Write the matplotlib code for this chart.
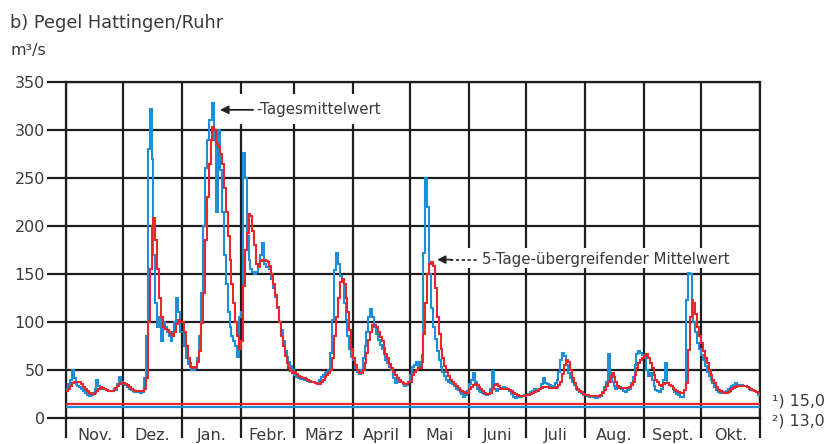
import numpy as np
import matplotlib

matplotlib.use("Agg")
import matplotlib.pyplot as plt
from matplotlib.patches import Rectangle

plt.rcParams["font.family"] = ["DejaVu Sans"]

# ── Daily discharge, Pegel Hattingen/Ruhr (m³/s) ─────────────────────────────
months = ["Nov.", "Dez.", "Jan.", "Febr.", "März", "April",
          "Mai", "Juni", "Juli", "Aug.", "Sept.", "Okt."]
month_days = [30, 31, 31, 28, 31, 30, 31, 30, 31, 31, 30, 31]

# Tagesmittelwert (blue)
blue_nov = [30, 35, 40, 50, 42, 35, 33, 32, 30, 28, 26, 24, 23, 24, 26, 30, 40, 33, 30, 31,
            30, 29, 28, 28, 28, 30, 29, 35, 43, 38]
blue_dez = [35, 34, 32, 30, 29, 28, 27, 27, 27, 26, 27, 42, 85, 280, 322, 270, 170, 120, 95, 105,
            80, 100, 95, 90, 85, 80, 90, 100, 125, 110, 90]
blue_jan = [90, 75, 62, 56, 53, 50, 50, 52, 62, 85, 130, 200, 260, 290, 310, 310, 328, 290, 215, 300,
            258, 215, 170, 140, 110, 95, 85, 80, 75, 64, 105]
blue_feb = [110, 276, 250, 190, 165, 155, 152, 150, 152, 160, 170, 182, 160, 157, 157, 155, 145, 135,
            126, 115, 100, 92, 80, 70, 64, 58, 54, 50]
blue_mar = [45, 43, 42, 41, 41, 40, 40, 39, 38, 38, 37, 36, 36, 40, 43, 45, 47, 48, 50, 68,
            102, 154, 172, 160, 148, 144, 120, 102, 85, 72, 64]
blue_apr = [60, 52, 48, 46, 50, 62, 75, 90, 105, 114, 105, 95, 88, 81, 76, 72, 67, 60, 57, 53,
            50, 42, 36, 40, 37, 37, 35, 33, 34, 38]
blue_mai = [45, 53, 55, 58, 53, 58, 66, 172, 250, 220, 150, 115, 95, 82, 70, 60, 53, 48, 44, 40,
            38, 36, 35, 33, 30, 29, 27, 25, 22, 24, 28]
blue_jun = [35, 40, 47, 38, 30, 28, 27, 26, 25, 24, 25, 30, 49, 30, 28, 30, 31, 30, 32, 31,
            30, 28, 25, 22, 21, 22, 23, 22, 23, 24]
blue_jul = [24, 25, 27, 28, 30, 29, 28, 30, 35, 42, 36, 35, 34, 33, 33, 36, 40, 48, 60, 68,
            65, 55, 47, 42, 37, 34, 30, 29, 27, 26, 24]
blue_aug = [24, 23, 22, 22, 22, 21, 21, 22, 23, 27, 32, 38, 67, 43, 37, 33, 30, 31, 32, 30,
            28, 27, 29, 30, 36, 43, 55, 67, 70, 68, 66]
blue_sep = [62, 50, 44, 47, 40, 33, 29, 28, 27, 30, 40, 57, 36, 34, 33, 30, 27, 25, 24, 22,
            22, 29, 123, 151, 150, 123, 100, 90, 78, 72]
blue_okt = [66, 60, 54, 48, 44, 40, 36, 32, 29, 27, 26, 26, 27, 28, 30, 31, 33, 34, 36, 34,
            33, 34, 33, 33, 32, 30, 29, 29, 28, 27, 24]

# 5-Tage-übergreifender Mittelwert (red)
red_nov = [28, 30, 33, 36, 38, 38, 38, 37, 35, 32, 30, 28, 26, 25, 25, 26, 28, 30, 32, 31,
           30, 29, 28, 28, 28, 29, 31, 33, 35, 36]
red_dez = [36, 35, 34, 32, 30, 29, 28, 28, 28, 28, 28, 30, 42, 100, 155, 200, 208, 185, 155, 125,
           105, 95, 93, 92, 90, 88, 85, 90, 98, 102, 100]
red_jan = [100, 90, 75, 63, 57, 53, 52, 53, 58, 70, 99, 130, 185, 230, 265, 290, 303, 300, 285, 282,
           275, 265, 240, 215, 190, 165, 140, 120, 100, 85, 72]
red_feb = [80, 137, 175, 193, 213, 210, 195, 180, 160, 157, 164, 165, 165, 164, 162, 158, 150, 140,
           128, 116, 100, 85, 75, 65, 57, 52, 49, 47]
red_mar = [48, 46, 44, 43, 42, 42, 41, 40, 39, 38, 37, 36, 35, 35, 37, 40, 43, 45, 47, 50,
           62, 85, 105, 125, 142, 145, 140, 125, 110, 92, 72]
red_apr = [62, 55, 50, 47, 47, 50, 57, 68, 81, 90, 97, 97, 95, 90, 84, 80, 73, 67, 62, 56,
           52, 48, 45, 42, 40, 38, 36, 35, 35, 38]
red_mai = [38, 45, 48, 50, 52, 52, 58, 88, 120, 150, 160, 163, 158, 135, 105, 88, 72, 62, 54, 48,
           44, 40, 37, 35, 33, 31, 29, 28, 27, 26, 26]
red_jun = [30, 32, 34, 35, 34, 32, 30, 28, 26, 25, 25, 26, 30, 34, 35, 33, 31, 30, 30, 30,
           30, 29, 28, 26, 25, 24, 23, 23, 23, 23]
red_jul = [24, 24, 25, 26, 27, 28, 29, 30, 31, 32, 32, 32, 31, 31, 31, 31, 32, 34, 38, 46,
           55, 60, 58, 50, 42, 36, 32, 30, 28, 27, 25]
red_aug = [24, 24, 23, 23, 23, 23, 23, 23, 24, 26, 29, 33, 38, 44, 47, 43, 38, 33, 31, 31,
           31, 31, 31, 32, 34, 38, 45, 52, 57, 60, 63]
red_sep = [65, 67, 62, 57, 52, 45, 40, 37, 34, 33, 35, 36, 36, 34, 33, 31, 29, 28, 27, 26,
           26, 29, 36, 71, 105, 123, 120, 108, 95, 85]
red_okt = [78, 70, 63, 57, 50, 45, 40, 36, 32, 29, 28, 27, 26, 26, 27, 28, 30, 31, 32, 33,
           33, 33, 33, 33, 32, 31, 30, 29, 28, 27, 26]

# reference levels (right-hand notes)
level_red = 15.0
level_blue = 11.0
level_notes = ["¹) 15,0", "²) 13,0"]

blue = np.concatenate([blue_nov, blue_dez, blue_jan, blue_feb, blue_mar, blue_apr,
                       blue_mai, blue_jun, blue_jul, blue_aug, blue_sep, blue_okt])
red = np.concatenate([red_nov, red_dez, red_jan, red_feb, red_mar, red_apr,
                      red_mai, red_jun, red_jul, red_aug, red_sep, red_okt])
edges = np.arange(len(blue) + 1)
bounds = np.concatenate([[0], np.cumsum(month_days)])
centers = (bounds[:-1] + bounds[1:]) / 2

BLUE = "#1c8fd6"
RED = "#e8262e"
GRID = "#1e1e1e"
TXT = "#3a3a3a"
ARR = "#222222"

fig = plt.figure(figsize=(8.3, 4.44), dpi=100)
ax = fig.add_axes([66 / 830, 26 / 444, 694 / 830, 336 / 444])

ax.stairs(blue, edges, baseline=None, color=BLUE, lw=1.5, zorder=3)
ax.stairs(red, edges, baseline=None, color=RED, lw=1.5, zorder=4)
ax.axhline(level_red, color=RED, lw=1.6, zorder=3)
ax.axhline(level_blue, color=BLUE, lw=1.6, zorder=3)

ax.set_xlim(0, bounds[-1])
ax.set_ylim(0, 350)
ax.set_yticks(np.arange(0, 351, 50))
ax.set_xticks(bounds)
ax.set_xticklabels([])
ax.set_xticks(centers, minor=True)
ax.set_xticklabels(months, minor=True)
ax.grid(True, which="major", color=GRID, lw=1.6, zorder=1)
for sp in ax.spines.values():
    sp.set_color(GRID)
    sp.set_linewidth(1.6)

ax.tick_params(axis="y", direction="out", length=13.7, width=1.6, color=GRID,
               pad=1.5, labelsize=11.5, labelcolor=TXT)
ax.tick_params(axis="x", which="major", direction="out", length=14.4, width=1.6, color=GRID)
ax.tick_params(axis="x", which="minor", length=0, pad=7, labelsize=11.5, labelcolor=TXT)

# ── annotations: white panels break the grid behind the labels ───────────────
ax.add_patch(Rectangle((80, 306), 92, 31, fc="white", ec="none", zorder=5))
ax.annotate("", xy=(81, 321), xytext=(98.4, 321), zorder=7,
            arrowprops=dict(arrowstyle="-|>", color=ARR, lw=1.3,
                            shrinkA=0, shrinkB=0, mutation_scale=12))
ax.text(100, 321, "-Tagesmittelwert", ha="left", va="center",
        fontsize=10.8, color=TXT, zorder=6)

ax.add_patch(Rectangle((195, 156), 165, 21, fc="white", ec="none", zorder=5))
ax.plot([202, 216.5], [165, 165], color=ARR, lw=1.2, ls=(0, (2, 1.5)), zorder=6)
ax.annotate("", xy=(195.2, 165), xytext=(203, 165), zorder=7,
            arrowprops=dict(arrowstyle="-|>", color=ARR, lw=1.2,
                            shrinkA=0, shrinkB=0, mutation_scale=12))
ax.text(218.8, 165, "5-Tage-übergreifender Mittelwert", ha="left", va="center",
        fontsize=10.8, color=TXT, zorder=6)

fig.text(10 / 830, 1 - 28 / 444, "b) Pegel Hattingen/Ruhr", fontsize=12.8,
         color=TXT, va="baseline")
fig.text(10 / 830, 1 - 55 / 444, "m³/s", fontsize=11.5, color=TXT, va="baseline")
fig.text(772 / 830, 1 - 401 / 444, level_notes[0], fontsize=11.4, color=TXT, va="center")
fig.text(772 / 830, 1 - 421 / 444, level_notes[1], fontsize=11.4, color=TXT, va="center")

fig.savefig("out.png", dpi=100)
